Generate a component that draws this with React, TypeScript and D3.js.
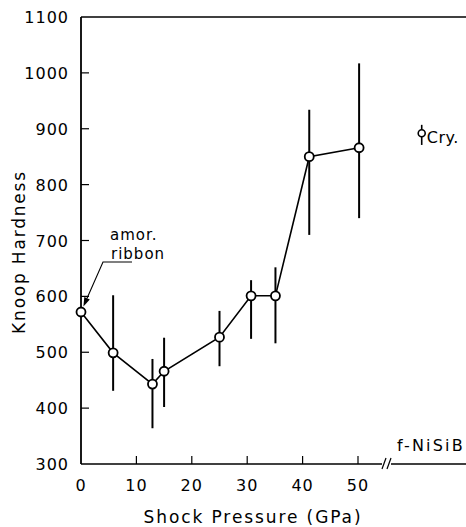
import React from "react";
import * as d3 from "d3";

const pressure = [0, 5.8, 12.9, 15.0, 25.0, 30.7, 35.1, 41.2, 50.2];
const hardness = [572, 499, 443, 466, 527, 601, 601, 850, 866];
const errLow: (number | null)[] = [null, 431, 364, 402, 475, 524, 516, 710, 740];
const errHigh: (number | null)[] = [null, 602, 488, 526, 574, 629, 652, 934, 1017];

const cryPosition = [61.5];
const cryHardness = [892];
const cryLow = [871];
const cryHigh = [907];

const xTicks = [0, 10, 20, 30, 40, 50];
const yTicks = [300, 400, 500, 600, 700, 800, 900, 1000, 1100];

const W = 466;
const H = 527;
const FONT = "'DejaVu Sans', sans-serif";

export default function App() {
  const x = d3.scaleLinear().domain([0, 50]).range([81, 358]);
  const y = d3.scaleLinear().domain([300, 1100]).range([464, 17]);
  const x0 = x(0);
  const y0 = y(300);
  const yTop = y(1100);
  const breakX = 385;

  const line = d3
    .line<number>()
    .x((_, i) => x(pressure[i]))
    .y((d) => y(d));

  // annotation leader for "amor. ribbon"
  const p0x = x(pressure[0]);
  const p0y = y(hardness[0]);
  const lx = 103, ly = 262;
  const ang = Math.atan2(p0y - ly, p0x - lx);
  const tipX = p0x - Math.cos(ang) * 6;
  const tipY = p0y - Math.sin(ang) * 6;
  const ah = 9, aw = 3;
  const bx = tipX - Math.cos(ang) * ah;
  const by = tipY - Math.sin(ang) * ah;
  const arrow = `M${tipX},${tipY} L${bx - Math.sin(ang) * aw},${by + Math.cos(ang) * aw} L${bx + Math.sin(ang) * aw},${by - Math.cos(ang) * aw} Z`;

  return (
    <svg
      width={W}
      height={H}
      style={{ position: "absolute", left: 0, top: 0, background: "#fff" }}
      fontFamily={FONT}
    >
      <rect x={0} y={0} width={W} height={H} fill="#fff" />
      {/* frame */}
      <line x1={x0} y1={yTop} x2={W} y2={yTop} stroke="#000" strokeWidth={1.6} />
      <line x1={x0} y1={yTop} x2={x0} y2={y0} stroke="#000" strokeWidth={1.8} />
      <line x1={x0} y1={y0} x2={breakX - 3} y2={y0} stroke="#000" strokeWidth={1.6} />
      <line x1={breakX + 6} y1={y0} x2={W} y2={y0} stroke="#000" strokeWidth={1.6} />
      <line x1={breakX - 3} y1={y0 + 5} x2={breakX + 1} y2={y0 - 6} stroke="#000" strokeWidth={1.2} />
      <line x1={breakX + 2} y1={y0 + 5} x2={breakX + 6} y2={y0 - 6} stroke="#000" strokeWidth={1.2} />

      {/* y ticks */}
      {yTicks.map((t) => (
        <g key={"y" + t}>
          {t > 300 && t < 1100 && (
            <line x1={x0} x2={x0 + 8} y1={y(t)} y2={y(t)} stroke="#000" strokeWidth={1.2} />
          )}
          <text
            x={69}
            y={y(t) + 6}
            textAnchor="end"
            fontSize={16}
            letterSpacing={1}
          >
            {t}
          </text>
        </g>
      ))}

      {/* x ticks */}
      {xTicks.map((t) => (
        <g key={"x" + t}>
          {t > 0 && (
            <line x1={x(t)} x2={x(t)} y1={y0} y2={y0 - 8} stroke="#000" strokeWidth={1.2} />
          )}
          <text x={x(t)} y={491} textAnchor="middle" fontSize={16} letterSpacing={1}>
            {t}
          </text>
        </g>
      ))}

      {/* axis titles */}
      <text x={253} y={523} textAnchor="middle" fontSize={17} letterSpacing={1.9}>
        Shock Pressure (GPa)
      </text>
      <text
        transform="translate(25,252) rotate(-90)"
        textAnchor="middle"
        fontSize={17}
        letterSpacing={1.8}
      >
        Knoop Hardness
      </text>

      {/* error bars */}
      {pressure.map((p, i) =>
        errLow[i] != null && errHigh[i] != null ? (
          <line
            key={"e" + i}
            x1={x(p)}
            x2={x(p)}
            y1={y(errLow[i] as number)}
            y2={y(errHigh[i] as number)}
            stroke="#000"
            strokeWidth={2}
          />
        ) : null
      )}

      {/* connecting line */}
      <path d={line(hardness) || ""} fill="none" stroke="#000" strokeWidth={1.6} />

      {/* points */}
      {pressure.map((p, i) => (
        <circle
          key={"c" + i}
          cx={x(p)}
          cy={y(hardness[i])}
          r={4.5}
          fill="#fff"
          stroke="#000"
          strokeWidth={1.8}
        />
      ))}

      {/* crystalline point */}
      {cryPosition.map((p, i) => (
        <g key={"cry" + i}>
          <line x1={x(p)} x2={x(p)} y1={y(cryLow[i])} y2={y(cryHigh[i])} stroke="#000" strokeWidth={1.6} />
          <circle cx={x(p)} cy={y(cryHardness[i])} r={3.5} fill="#fff" stroke="#000" strokeWidth={1.6} />
          <text x={x(p) + 5} y={y(cryHardness[i]) + 10} fontSize={16} letterSpacing={0.5}>
            Cry.
          </text>
        </g>
      ))}

      {/* annotations */}
      <text x={110} y={240} fontSize={15} letterSpacing={1}>
        amor.
      </text>
      <text x={111} y={259} fontSize={15} letterSpacing={1}>
        ribbon
      </text>
      <polyline
        points={`${132},${ly} ${lx},${ly} ${bx},${by}`}
        fill="none"
        stroke="#000"
        strokeWidth={1.1}
      />
      <path d={arrow} fill="#000" />

      <text x={397} y={451} fontSize={16} letterSpacing={2.2}>
        f-NiSiB
      </text>
    </svg>
  );
}
